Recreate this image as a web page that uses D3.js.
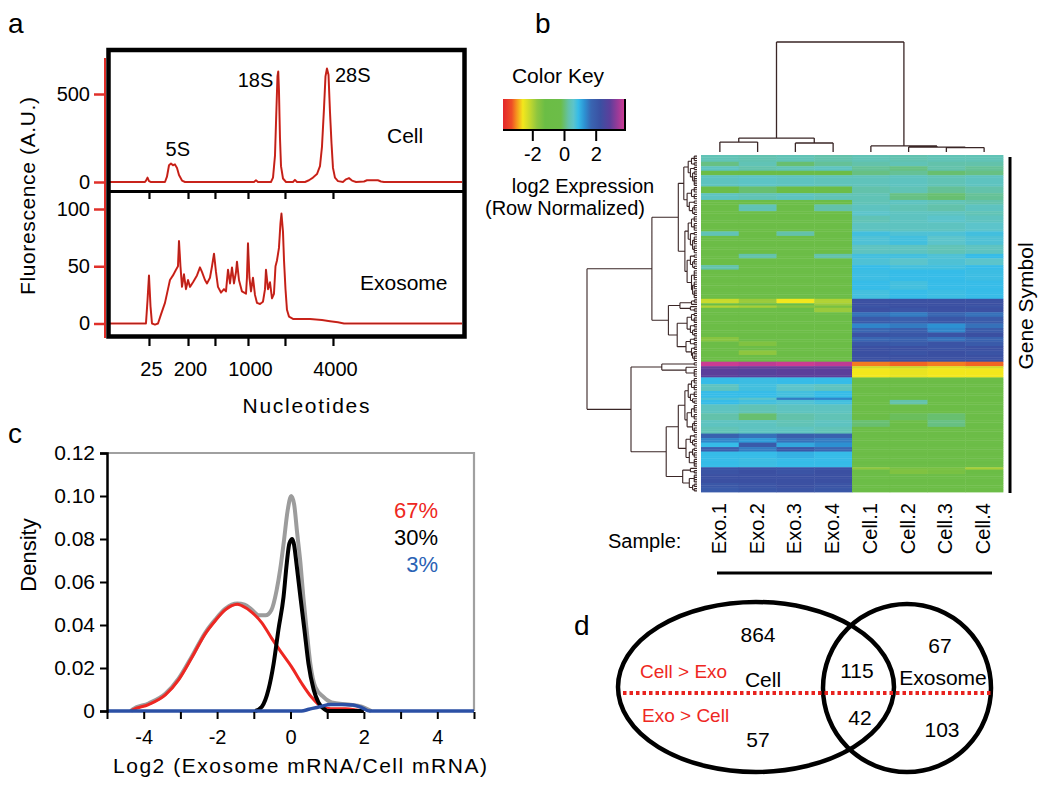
<!DOCTYPE html>
<html><head><meta charset="utf-8">
<script src="https://cdn.jsdelivr.net/npm/d3@7"></script>
<style>body{margin:0;background:#fff}</style>
</head><body>
<svg id="fig" width="1050" height="793"></svg>
<script>
// ---------------- DATA ----------------
// Panel a: Bioanalyzer traces, [migration time (s), fluorescence]
const ladderNt = [25, 200, 500, 1000, 2000, 4000];
const ladderTime = [23.28, 29.38, 33.59, 38.75, 44.53, 52.03];
const ladderLabelled = [25, 200, 1000, 4000];
const cellTrace = [[17.19,0],[22.66,0],[22.81,8],[23.05,25],[23.28,5],[23.59,0],[25.78,0],[26.09,30],[26.41,95],[26.72,105],[27.03,95],[27.34,100],[27.66,80],[27.97,40],[28.44,8],[28.91,0],[39.69,0],[40.0,10],[40.31,0],[42.34,0],[42.66,25],[42.97,150],[43.2,420],[43.36,600],[43.48,628],[43.59,520],[43.75,250],[43.91,90],[44.22,20],[44.69,0],[45.78,0],[46.09,12],[46.41,0],[47.66,0],[48.28,10],[48.91,25],[49.53,45],[50.0,90],[50.31,200],[50.63,420],[50.86,600],[51.09,645],[51.33,610],[51.56,400],[51.8,220],[52.03,80],[52.34,25],[52.81,5],[53.59,0],[54.06,15],[54.53,22],[55.0,8],[55.63,0],[56.88,3],[57.34,10],[59.06,10],[59.53,3],[60.0,0],[72.19,0]];
const exoTrace = [[17.19,0],[22.81,0],[23.05,20],[23.28,42],[23.52,15],[23.75,0],[24.22,-1],[24.69,0],[25.16,8],[25.78,18],[26.25,30],[26.56,38],[27.03,42],[27.5,47],[27.81,50],[27.97,72],[28.2,50],[28.44,32],[28.75,43],[29.06,30],[29.38,38],[29.69,32],[30.16,36],[30.78,42],[31.25,49],[31.56,45],[32.03,38],[32.34,35],[32.81,40],[33.13,50],[33.44,61],[33.75,45],[34.06,32],[34.53,27],[35.0,30],[35.31,28],[35.63,47],[35.94,35],[36.25,49],[36.56,35],[36.88,45],[37.03,54],[37.34,38],[37.81,28],[38.44,26],[38.59,40],[38.75,70],[38.98,40],[39.22,28],[39.53,40],[39.84,25],[40.16,18],[40.63,17],[41.09,19],[41.41,30],[41.56,47],[41.88,30],[42.19,36],[42.5,22],[42.81,26],[43.05,50],[43.28,55],[43.59,66],[43.83,88],[43.98,96],[44.22,80],[44.38,55],[44.61,30],[44.84,12],[45.16,6],[45.78,4],[48.44,4],[50.31,3],[51.56,2],[52.81,1],[53.75,0],[72.19,0]];
const rnaPeaks = [{label:"5S", t:27.0, v:105}, {label:"18S", t:43.48, v:628}, {label:"28S", t:51.09, v:645}];
const topTicks = [0, 500];
const bottomTicks = [0, 50, 100];

// Panel b: heatmap (row blocks of genes, log2 row-normalised expression)
const samples = ["Exo.1","Exo.2","Exo.3","Exo.4","Cell.1","Cell.2","Cell.3","Cell.4"];
const rowBlockSizes = [3,2,2,2,5,3,3,2,3,2, 3,4,2,4,4,2,3,2,5,4,4, 2,1,1,2, 2,3,2,2,2,2,2,2,2,3, 2,1,4, 3,3,3,1,2,4,3,3,3, 2,2,2,2,3,4, 1,2,4,2,2];
const rowBlockValues = [
 [0.4,0.35,0.4,0.3, 0.4,0.35,0.4,0.4],
 [0.1,0.4,0.0,0.2, 0.3,0.4,0.3,0.3],
 [0.5,0.3,0.4,0.5, 0.2,0.1,0.3,0.2],
 [-0.4,-0.3,-0.3,-0.2, 0.1,0.2,0.0,0.1],
 [0.5,0.55,0.5,0.45, 0.45,0.5,0.4,0.5],
 [-0.3,0.0,-0.4,-0.3, 0.3,0.4,0.2,0.3],
 [0.5,0.4,0.5,0.4, 0.4,0.1,0.0,0.2],
 [-0.5,-0.4,-0.3,-0.5, 0.4,0.5,0.4,0.3],
 [-0.4,0.4,-0.2,0.3, 0.5,0.4,0.3,0.5],
 [-0.5,-0.3,-0.5,-0.4, 0.6,0.5,0.5,0.4],
 [-0.3,-0.5,-0.4,-0.5, 0.4,0.5,0.6,0.5],
 [-0.6,-0.5,-0.6,-0.6, 0.5,0.5,0.5,0.6],
 [0.4,-0.5,0.3,-0.6, 0.8,0.7,0.7,0.8],
 [-0.6,-0.6,-0.6,-0.6, 0.7,0.8,0.6,0.7],
 [-0.6,-0.5,-0.6,-0.6, 0.5,0.5,0.4,0.5],
 [-0.6,0.3,-0.6,0.3, 0.8,0.8,0.7,0.9],
 [-0.6,-0.6,-0.6,-0.6, 0.7,0.6,0.7,0.6],
 [0.3,-0.6,-0.6,-0.6, 0.9,0.8,0.8,0.9],
 [-0.6,-0.6,-0.6,-0.6, 0.85,0.9,0.9,0.85],
 [-0.6,-0.6,-0.6,-0.6, 0.9,0.8,0.9,0.9],
 [-0.6,-0.6,-0.6,-0.6, 0.8,0.9,0.85,0.9],
 [-2.2,-1.8,-2.6,-2.0, 2.3,2.3,2.3,2.3],
 [-1.2,-0.9,-0.8,-1.8, 2.3,2.3,2.3,2.3],
 [-2.0,-1.9,-1.6,-1.4, 2.2,2.3,2.3,2.2],
 [-0.7,-0.6,-0.8,-1.8, 2.3,2.2,2.3,2.3],
 [-0.6,-0.6,-0.6,-0.6, 1.6,1.5,1.7,1.6],
 [-0.6,-0.6,-0.4,-0.6, 2.0,1.9,2.1,2.0],
 [-0.6,-0.6,-0.6,-0.6, 1.4,1.5,1.3,1.6],
 [-0.6,-0.6,-0.6,-0.6, 1.7,1.9,1.4,2.0],
 [-0.6,-0.6,-0.6,-0.6, 2.2,2.1,2.2,2.3],
 [-1.6,-0.7,-0.6,-0.6, 1.7,1.8,1.6,1.8],
 [-0.6,-1.5,-0.6,-0.6, 2.1,2.0,2.2,2.0],
 [-0.6,-0.6,-0.6,-0.6, 2.3,2.3,2.2,2.3],
 [-0.6,-1.7,-0.6,-0.6, 2.3,2.2,2.3,2.2],
 [-0.6,-0.6,-0.6,-0.6, 2.3,2.3,2.3,2.3],
 [3.8,3.7,3.8,3.7, -3.1,-3.2,-3.1,-3.2],
 [3.0,3.0,3.0,3.0, -2.3,-2.2,-2.4,-2.3],
 [2.9,2.8,2.9,2.9, -2.6,-2.5,-2.6,-2.6],
 [0.9,0.85,0.9,0.9, -0.6,-0.6,-0.6,-0.6],
 [0.5,0.8,0.6,0.5, -0.6,-0.5,-0.6,-0.6],
 [0.9,0.9,0.8,0.9, -0.6,-0.6,-0.6,-0.6],
 [0.7,0.6,1.5,1.4, -0.5,-0.5,-0.5,-0.5],
 [0.9,0.8,0.7,0.8, -0.4,0.3,-0.3,-0.5],
 [0.5,0.4,0.5,0.5, -0.4,-0.2,-0.5,-0.3],
 [0.3,0.0,0.3,0.4, -0.3,-0.1,0.0,-0.3],
 [0.5,0.5,0.4,0.5, 0.0,-0.2,0.1,-0.2],
 [0.4,0.5,0.5,0.4, -0.4,-0.3,-0.4,-0.5],
 [1.8,1.6,1.9,1.8, -0.6,-0.6,-0.6,-0.6],
 [1.4,1.2,1.6,1.5, -0.6,-0.6,-0.6,-0.6],
 [0.9,2.0,1.1,1.3, -0.6,-0.6,-0.6,-0.6],
 [1.9,1.5,2.1,1.7, -0.6,-0.6,-0.6,-0.6],
 [0.9,0.9,1.0,0.9, -0.6,-0.6,-0.6,-0.6],
 [0.9,0.85,0.9,0.9, -0.6,-0.6,-0.6,-0.6],
 [2.3,2.3,2.3,2.3, -1.7,-1.4,-1.4,-1.9],
 [2.2,2.3,2.2,2.3, -0.7,-1.5,-1.4,-0.8],
 [2.3,2.3,2.3,2.3, -0.6,-0.6,-0.6,-0.6],
 [2.1,2.2,2.3,2.2, -0.6,-0.6,-0.6,-0.6],
 [2.0,2.1,2.2,2.1, -0.6,-0.6,-0.6,-0.6]
];
// Row dendrogram (leaves = row blocks), heights relative to root
const rowTree = {h:1.0, c:[
  {h:0.41, c:[
    {h:0.17, c:[
      {h:0.12, c:[{h:0.08, c:[{h:0.05,c:[0,1]}, {h:0.06,c:[2,{h:0.04,c:[3,4]}]}]}, {h:0.09, c:[{h:0.05,c:[5,6]}, {h:0.07,c:[7,{h:0.04,c:[8,9]}]}]}]},
      {h:0.11, c:[{h:0.08, c:[{h:0.05,c:[10,11]}, {h:0.06,c:[12,{h:0.04,c:[13,14]}]}]}, {h:0.09, c:[{h:0.06,c:[15,{h:0.04,c:[16,17]}]}, {h:0.05,c:[18,{h:0.04,c:[19,20]}]}]}]}
    ]},
    {h:0.26, c:[
      {h:0.155, c:[{h:0.05,c:[21,22]}, {h:0.06,c:[23,24]}]},
      {h:0.18, c:[{h:0.09, c:[{h:0.05,c:[25,26]}, {h:0.06,c:[27,{h:0.04,c:[28,29]}]}]}, {h:0.1, c:[{h:0.06,c:[30,31]}, {h:0.05,c:[32,{h:0.04,c:[33,34]}]}]}]}
    ]}
  ]},
  {h:0.6, c:[
    {h:0.32, c:[35, {h:0.1, c:[36,37]}]},
    {h:0.28, c:[
      {h:0.17, c:[
        {h:0.11, c:[{h:0.08,c:[{h:0.05,c:[38,39]},{h:0.06,c:[40,{h:0.04,c:[41,42]}]}]}, {h:0.09,c:[{h:0.05,c:[43,44]},{h:0.04,c:[45,46]}]}]},
        {h:0.1, c:[{h:0.06,c:[47,{h:0.04,c:[48,49]}]}, {h:0.07,c:[{h:0.04,c:[50,51]},52]}]}
      ]},
      {h:0.13, c:[{h:0.06,c:[53,54]}, {h:0.07,c:[55,{h:0.04,c:[56,57]}]}]}
    ]}
  ]}
]};
const colTree = {h:1.0, c:[
  {h:0.127, c:[{h:0.09, c:[0,1]}, {h:0.082, c:[2,3]}]},
  {h:0.055, c:[4, {h:0.045, c:[5, {h:0.04, c:[6,7]}]}]}
]};
const keyStops  = [-3.85,-3.3,-3.0,-2.6,-2.2,-1.7,-1.2,-0.2,0.3,0.6,0.9,1.3,1.7,2.3,2.9,3.4,3.85];
const keyColors = ["#e3262a","#ee4f26","#f6921e","#f3e71c","#c9da2c","#8ec63f","#6bbd45","#6cbd48","#63c2ab","#5cc4cb","#36bce8","#2d91d2","#3966b2","#3b50a2","#5c3f9b","#9b3a98","#d13c92"];
const keyTicks = [-2, 0, 2];

// Panel c: density curves, [log2 ratio, density]
const densityTotal = [[-4.35,0],[-4.3,0.0008],[-3.87,0.0035],[-3.41,0.008],[-3.05,0.015],[-2.7,0.025],[-2.32,0.0365],[-2.05,0.0425],[-1.78,0.0475],[-1.6,0.0495],[-1.45,0.05],[-1.25,0.0495],[-1.05,0.047],[-0.87,0.0445],[-0.68,0.0445],[-0.52,0.047],[-0.38,0.056],[-0.28,0.066],[-0.18,0.079],[-0.08,0.093],[0.02,0.1],[0.1,0.096],[0.18,0.083],[0.27,0.069],[0.35,0.053],[0.44,0.0377],[0.54,0.022],[0.68,0.011],[0.9,0.0065],[1.12,0.004],[1.58,0.003],[1.94,0.002],[2.2,0]];
const densityDown = [[-4.35,0],[-4.3,0.0005],[-3.87,0.003],[-3.41,0.0075],[-3.05,0.0145],[-2.7,0.0245],[-2.32,0.036],[-2.05,0.042],[-1.78,0.047],[-1.6,0.049],[-1.45,0.0497],[-1.33,0.049],[-1.06,0.046],[-0.78,0.041],[-0.52,0.034],[-0.24,0.027],[0.03,0.0205],[0.3,0.013],[0.57,0.0065],[0.85,0.002],[1.1,0.001],[1.5,0.001],[1.8,0.0005],[2.0,0]];
const densitySame = [[-0.96,0],[-0.78,0.002],[-0.6,0.01],[-0.46,0.022],[-0.33,0.0377],[-0.19,0.053],[-0.1,0.069],[-0.03,0.078],[0.05,0.08],[0.1,0.077],[0.16,0.069],[0.27,0.053],[0.38,0.0377],[0.49,0.022],[0.63,0.01],[0.76,0.004],[0.95,0.0005],[1.0,0],[2.0,0]];
const densityUp = [[-5,0],[0.3,0],[0.5,0.0008],[0.8,0.002],[1.1,0.003],[1.4,0.003],[1.7,0.0028],[1.95,0.0015],[2.15,0],[5,0]];
const densityYTicks = [0, 0.02, 0.04, 0.06, 0.08, 0.10, 0.12];
const densityXTicks = [-5,-4,-3,-2,-1,0,1,2,3,4,5];
const groupPercents = [{label:"67%", color:"#ee2722"}, {label:"30%", color:"#000"}, {label:"3%", color:"#2a62b5"}];

// Panel d: Venn counts
const vennCounts = {cellUp:864, cellDown:57, bothUp:115, bothDown:42, exoUp:67, exoDown:103};

// ---------------- DRAW ----------------
const FONT = '"Liberation Sans", Arial, Helvetica, sans-serif';
const svg = d3.select("#fig").attr("font-family", FONT);
svg.append("rect").attr("width",1050).attr("height",793).attr("fill","#fff");

function addText(g, s, x, y, o = {}) {
  const t = g.append("text").attr("x", x).attr("y", y).text(s)
    .attr("font-size", o.size || 20).attr("fill", o.fill || "#000")
    .attr("text-anchor", o.anchor || "start");
  if (o.len) t.attr("textLength", o.len).attr("lengthAdjust", "spacing");
  if (o.rotate) t.attr("transform", `rotate(${o.rotate},${x},${y})`);
  return t;
}

// panel letters
addText(svg, "a", 8, 33, {size:28});
addText(svg, "b", 535, 33, {size:28});
addText(svg, "c", 8, 443, {size:28});
addText(svg, "d", 574, 635, {size:28});

// ===== Panel a =====
const gA = svg.append("g");
const xA = d3.scaleLinear().domain([17.19, 72.19]).range([110, 462]);
const yTop = d3.scaleLinear().domain([0, 500]).range([182, 94]);
const yBot = d3.scaleLinear().domain([0, 100]).range([323.5, 209]);
const lineTop = d3.line().x(d => xA(d[0])).y(d => yTop(d[1]));
const lineBot = d3.line().x(d => xA(d[0])).y(d => yBot(d[1]));
[[lineTop, cellTrace], [lineBot, exoTrace]].forEach(([ln, data]) => {
  gA.append("path").attr("d", ln(data)).attr("fill","none").attr("stroke","#e2261c").attr("stroke-width",2).attr("stroke-linejoin","round");
  gA.append("path").attr("d", ln(data)).attr("fill","none").attr("stroke","#2a1a1a").attr("stroke-width",0.6).attr("opacity",0.45);
});
// frame
gA.append("rect").attr("x",108.5).attr("y",50).attr("width",356).attr("height",286.5)
  .attr("fill","none").attr("stroke","#000").attr("stroke-width",4.5);
gA.append("line").attr("x1",108.5).attr("x2",464.5).attr("y1",191.5).attr("y2",191.5).attr("stroke","#000").attr("stroke-width",3);
// red y axes
gA.append("line").attr("x1",105).attr("x2",105).attr("y1",58).attr("y2",338).attr("stroke","#e0302a").attr("stroke-width",2);
function styleRed(g) {
  g.select(".domain").remove();
  g.selectAll(".tick line").attr("stroke","#e0302a").attr("stroke-width",2.5);
  g.selectAll(".tick text").attr("font-size",20).attr("font-family",FONT).attr("fill","#000");
}
gA.append("g").attr("transform","translate(105,0)").call(d3.axisLeft(yTop).tickValues(topTicks).tickSize(11).tickPadding(4)).call(styleRed);
gA.append("g").attr("transform","translate(105,0)").call(d3.axisLeft(yBot).tickValues(bottomTicks).tickSize(11).tickPadding(4)).call(styleRed);
// x ticks (ladder)
const ladderFmt = (d, i) => ladderLabelled.includes(ladderNt[i]) ? String(ladderNt[i]) : "";
gA.append("g").attr("transform","translate(0,338)")
  .call(d3.axisBottom(xA).tickValues(ladderTime).tickSize(8).tickPadding(16).tickFormat(ladderFmt))
  .call(g => { g.select(".domain").remove();
    g.selectAll(".tick line").attr("stroke","#000").attr("stroke-width",2.2);
    g.selectAll(".tick text").attr("font-size",20).attr("font-family",FONT).attr("fill","#000").attr("dx",2); });
gA.append("g").attr("transform","translate(0,193)")
  .call(d3.axisBottom(xA).tickValues(ladderTime).tickSize(6).tickFormat(""))
  .call(g => { g.select(".domain").remove(); g.selectAll(".tick line").attr("stroke","#000").attr("stroke-width",2.2); });
// labels
rnaPeaks.forEach(p => {
  if (p.label === "5S") addText(gA, p.label, xA(p.t) + 5, yTop(p.v) - 8, {anchor:"middle"});
  else if (p.label === "18S") addText(gA, p.label, xA(p.t) - 5, yTop(p.v) + 16, {anchor:"end"});
  else addText(gA, p.label, xA(p.t) + 8, yTop(p.v) + 14);
});
addText(gA, "Cell", 387, 143, {size:21});
addText(gA, "Exosome", 360, 290, {size:21});
addText(gA, "Nucleotides", 306, 413, {size:21, anchor:"middle", len:127});
addText(gA, "Fluorescence (A.U.)", 35, 196, {size:21, anchor:"middle", rotate:-90, len:198});

// ===== Panel b =====
const gB = svg.append("g");
const color = d3.scaleLinear().domain(keyStops).range(keyColors).clamp(true);
// colour key
const keyX = d3.scaleLinear().domain([-3.85, 3.85]).range([503, 625]);
const defs = svg.append("defs");
const grad = defs.append("linearGradient").attr("id","keygrad").attr("x1","0%").attr("x2","100%");
keyStops.forEach((s, i) => grad.append("stop").attr("offset", (keyX(s) - 503) / 122).attr("stop-color", keyColors[i]));
gB.append("rect").attr("x",503).attr("y",99).attr("width",122).attr("height",31).attr("fill","url(#keygrad)");
gB.append("path").attr("d","M503,130H625V99").attr("fill","none").attr("stroke","#000").attr("stroke-width",2);
gB.append("g").attr("transform","translate(0,130)")
  .call(d3.axisBottom(keyX).tickValues(keyTicks).tickSize(11).tickPadding(6).tickFormat(d => String(d)))
  .call(g => { g.select(".domain").remove();
    g.selectAll(".tick line").attr("stroke","#000").attr("stroke-width",2);
    g.selectAll(".tick text").attr("font-size",20).attr("font-family",FONT).attr("fill","#000").attr("dy","0.71em"); });
addText(gB, "Color Key", 558, 83, {size:21, anchor:"middle"});
addText(gB, "log2 Expression", 583, 193, {size:20, anchor:"middle"});
addText(gB, "(Row Normalized)", 565, 215, {size:20, anchor:"middle"});

// heatmap
const rows = [];
const blockStart = [];
rowBlockSizes.forEach((n, b) => { blockStart.push(rows.length); for (let k = 0; k < n; k++) rows.push({block:b, values:rowBlockValues[b]}); });
const xH = d3.scaleBand().domain(samples).range([701, 1003]);
const yH = d3.scaleBand().domain(d3.range(rows.length)).range([155, 492]);
const cells = [];
rows.forEach((r, i) => samples.forEach((s, j) => cells.push({row:i, sample:s, v:r.values[j]})));
gB.append("g").selectAll("rect").data(cells).join("rect")
  .attr("x", d => xH(d.sample)).attr("y", d => yH(d.row))
  .attr("width", xH.bandwidth() + 0.4).attr("height", yH.bandwidth() + 0.4)
  .attr("fill", d => color(d.v));

// row dendrogram
const xD = d3.scaleLinear().domain([0, 1]).range([697, 587]);
const leafH = 0.025;
let rowPath = "";
const rc = r => yH(r) + yH.bandwidth() / 2;
function drawRowNode(node) {
  if (typeof node === "number") {
    const r0 = blockStart[node], n = rowBlockSizes[node];
    const ys = d3.range(r0, r0 + n).map(rc);
    if (n === 1) return {x: xD(0), y: ys[0]};
    const xl = xD(leafH);
    ys.forEach(y => { rowPath += `M${xl},${y}H${xD(0)}`; });
    rowPath += `M${xl},${ys[0]}V${ys[n-1]}`;
    return {x: xl, y: (ys[0] + ys[n-1]) / 2};
  }
  const kids = node.c.map(drawRowNode);
  const x = xD(node.h), y = d3.mean(kids, k => k.y);
  rowPath += `M${x},${kids[0].y}V${kids[kids.length-1].y}`;
  kids.forEach(k => { rowPath += `M${x},${k.y}H${k.x}`; });
  return {x, y};
}
drawRowNode(rowTree);
gB.append("path").attr("d", rowPath).attr("fill","none").attr("stroke","#3a2626").attr("stroke-width",1.1);

// column dendrogram
const yCD = d3.scaleLinear().domain([0, 1]).range([152, 42]);
let colPath = "";
function drawColNode(node) {
  if (typeof node === "number") return {x: xH(samples[node]) + xH.bandwidth() / 2, y: yCD(0)};
  const kids = node.c.map(drawColNode);
  const y = yCD(node.h), x = d3.mean(kids, k => k.x);
  colPath += `M${kids[0].x},${y}H${kids[kids.length-1].x}`;
  kids.forEach(k => { colPath += `M${k.x},${y}V${k.y}`; });
  return {x, y};
}
drawColNode(colTree);
gB.append("path").attr("d", colPath).attr("fill","none").attr("stroke","#3a2626").attr("stroke-width",1.3);

// sample labels
samples.forEach(s => {
  const x = xH(s) + xH.bandwidth() / 2 + 6;
  gB.append("text").attr("transform", `translate(${x},503) rotate(-90)`).attr("text-anchor","end")
    .attr("font-size",20).text(s);
});
addText(gB, "Sample:", 608, 548, {size:20});
gB.append("line").attr("x1",717).attr("x2",992).attr("y1",573).attr("y2",573).attr("stroke","#000").attr("stroke-width",3);
gB.append("line").attr("x1",1010).attr("x2",1010).attr("y1",157).attr("y2",493).attr("stroke","#000").attr("stroke-width",3);
gB.append("text").attr("transform","translate(1033,306) rotate(-90)").attr("text-anchor","middle").attr("font-size",21).text("Gene Symbol");

// ===== Panel c =====
const gC = svg.append("g");
const xC = d3.scaleLinear().domain([-5, 5]).range([107, 474]);
const yC = d3.scaleLinear().domain([0, 0.12]).range([711, 453]);
gC.append("path").attr("d", `M107,453H474V711`).attr("fill","none").attr("stroke","#a0a0a0").attr("stroke-width",2.2);
const lineC = d3.line().x(d => xC(d[0])).y(d => yC(d[1])).curve(d3.curveMonotoneX);
gC.append("path").attr("d", lineC(densityTotal)).attr("fill","none").attr("stroke","#9c9c9c").attr("stroke-width",4).attr("stroke-linejoin","round");
gC.append("path").attr("d", lineC(densityDown)).attr("fill","none").attr("stroke","#ee2722").attr("stroke-width",3).attr("stroke-linejoin","round");
gC.append("path").attr("d", lineC(densitySame)).attr("fill","none").attr("stroke","#000").attr("stroke-width",4).attr("stroke-linejoin","round");
gC.append("path").attr("d", lineC(densityUp)).attr("fill","none").attr("stroke","#2b50a5").attr("stroke-width",3.5).attr("stroke-linejoin","round");
gC.append("g").attr("transform","translate(107,0)")
  .call(d3.axisLeft(yC).tickValues(densityYTicks).tickSize(7).tickPadding(5).tickFormat(d => d === 0 ? "0" : d.toFixed(2)))
  .call(g => { g.select(".domain").attr("stroke","#000").attr("stroke-width",2.5);
    g.selectAll(".tick line").attr("stroke","#000").attr("stroke-width",2);
    g.selectAll(".tick text").attr("font-size",21).attr("font-family",FONT).attr("fill","#000"); });
gC.append("g").attr("transform","translate(0,712)")
  .call(d3.axisBottom(xC).tickValues(densityXTicks).tickSize(7).tickPadding(11).tickFormat(d => (d % 2 === 0 && Math.abs(d) < 5) ? String(d) : ""))
  .call(g => { g.select(".domain").remove();
    g.selectAll(".tick line").attr("stroke","#000").attr("stroke-width",2);
    g.selectAll(".tick text").attr("font-size",20).attr("font-family",FONT).attr("fill","#000"); });
addText(gC, "Density", 36, 555, {size:22, anchor:"middle", rotate:-90});
addText(gC, "Log2 (Exosome mRNA/Cell mRNA)", 300, 773, {size:21, anchor:"middle", len:374});
groupPercents.forEach((p, i) => addText(gC, p.label, 438, 518 + i * 27, {size:22, anchor:"end", fill:p.color}));

// ===== Panel d =====
const gD = svg.append("g");
gD.append("ellipse").attr("cx",756).attr("cy",687).attr("rx",138).attr("ry",85).attr("fill","none").attr("stroke","#000").attr("stroke-width",4.5);
gD.append("ellipse").attr("cx",907).attr("cy",688).attr("rx",84).attr("ry",84).attr("fill","none").attr("stroke","#000").attr("stroke-width",4.5);
gD.append("line").attr("x1",623).attr("x2",992).attr("y1",693).attr("y2",693).attr("stroke","#e8231f").attr("stroke-width",4).attr("stroke-dasharray","3.5,3");
addText(gD, String(vennCounts.cellUp), 758, 642, {size:21, anchor:"middle"});
addText(gD, "Cell", 763, 687, {size:21, anchor:"middle"});
addText(gD, String(vennCounts.bothUp), 857, 678, {size:21, anchor:"middle"});
addText(gD, String(vennCounts.bothDown), 860, 725, {size:21, anchor:"middle"});
addText(gD, String(vennCounts.cellDown), 758, 747, {size:21, anchor:"middle"});
addText(gD, String(vennCounts.exoUp), 940, 653, {size:21, anchor:"middle"});
addText(gD, "Exosome", 943, 685, {size:21, anchor:"middle"});
addText(gD, String(vennCounts.exoDown), 942, 737, {size:21, anchor:"middle"});
addText(gD, "Cell > Exo", 640, 678, {size:19, fill:"#ee2722"});
addText(gD, "Exo > Cell", 642, 722, {size:19, fill:"#ee2722"});
</script>
</body></html>
